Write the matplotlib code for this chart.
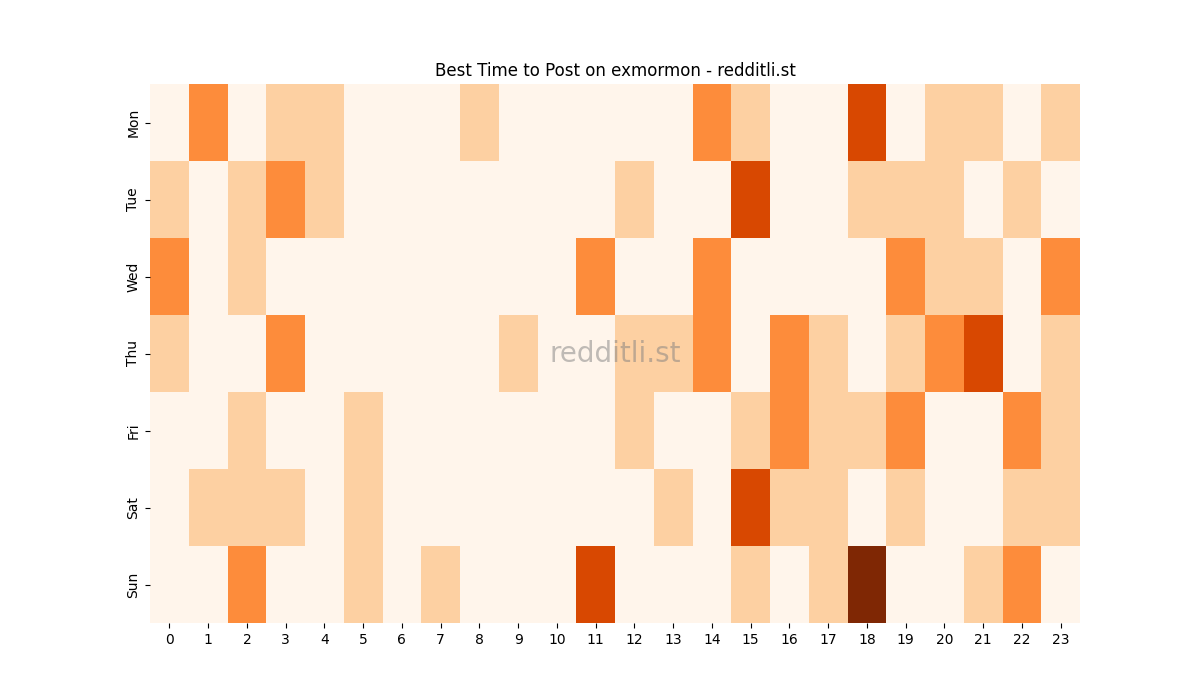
import matplotlib
matplotlib.use("Agg")
import numpy as np
import pandas as pd
import seaborn as sns
from matplotlib import pyplot as plt

days = ["Mon", "Tue", "Wed", "Thu", "Fri", "Sat", "Sun"]
hours = list(range(24))

mon = [0, 2, 0, 1, 1, 0, 0, 0, 1, 0, 0, 0, 0, 0, 2, 1, 0, 0, 3, 0, 1, 1, 0, 1]
tue = [1, 0, 1, 2, 1, 0, 0, 0, 0, 0, 0, 0, 1, 0, 0, 3, 0, 0, 1, 1, 1, 0, 1, 0]
wed = [2, 0, 1, 0, 0, 0, 0, 0, 0, 0, 0, 2, 0, 0, 2, 0, 0, 0, 0, 2, 1, 1, 0, 2]
thu = [1, 0, 0, 2, 0, 0, 0, 0, 0, 1, 0, 0, 1, 1, 2, 0, 2, 1, 0, 1, 2, 3, 0, 1]
fri = [0, 0, 1, 0, 0, 1, 0, 0, 0, 0, 0, 0, 1, 0, 0, 1, 2, 1, 1, 2, 0, 0, 2, 1]
sat = [0, 1, 1, 1, 0, 1, 0, 0, 0, 0, 0, 0, 0, 1, 0, 3, 1, 1, 0, 1, 0, 0, 1, 1]
sun = [0, 0, 2, 0, 0, 1, 0, 1, 0, 0, 0, 3, 0, 0, 0, 1, 0, 1, 4, 0, 0, 1, 2, 0]

data = pd.DataFrame([mon, tue, wed, thu, fri, sat, sun], index=days, columns=hours)

fig, ax = plt.subplots(figsize=(12, 7))
sns.heatmap(data, cmap="Oranges", cbar=False, ax=ax)
ax.set_title("Best Time to Post on exmormon - redditli.st")
ax.set_xlabel("")
ax.set_ylabel("")
ax.text(0.5, 0.5, "redditli.st", transform=ax.transAxes, ha="center", va="center",
        fontsize=20, color="gray", alpha=0.5)

plt.savefig("out.png", dpi=100)
